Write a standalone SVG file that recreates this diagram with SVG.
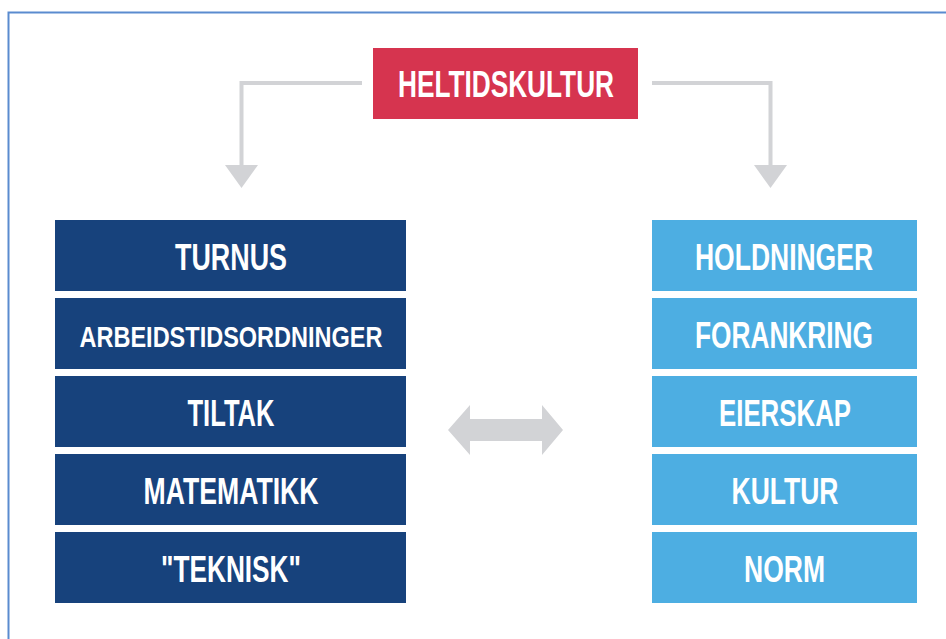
<svg xmlns="http://www.w3.org/2000/svg" width="946" height="639" viewBox="0 0 946 639">
<style>
.t{font-family:"Liberation Sans",Arial,sans-serif;font-weight:bold;fill:#fff;text-anchor:middle;font-size:36px}
.dk{fill:#17427c}
.lt{fill:#4daee2}
.con{fill:none;stroke:#d2d3d6;stroke-width:4}
.head{fill:#d2d3d6}
</style>
<rect width="946" height="639" fill="#fff"/>
<path d="M8.5,639 V12.5 H946" fill="none" stroke="#5a8bcf" stroke-width="2"/>
<g id="connectors">
<path class="con" d="M362,83 H241.5 V167"/>
<polygon class="head" points="225,165 258,165 241.5,188"/>
<path class="con" d="M652,83 H770.5 V167"/>
<polygon class="head" points="754,165 787,165 770.5,188"/>
<polygon class="head" points="448,430 470,405 470,419 542,419 542,405 563,430 542,455 542,441 470,441 470,455"/>
</g>
<g id="heltidskultur">
<rect x="373" y="48" width="265" height="71" fill="#d6344f"/>
<text class="t" x="506" y="97" textLength="216" lengthAdjust="spacingAndGlyphs">HELTIDSKULTUR</text>
</g>
<g id="turnus"><rect class="dk" x="55" y="220" width="351" height="71"/><text class="t" x="231" y="269.5" textLength="112" lengthAdjust="spacingAndGlyphs">TURNUS</text></g>
<g id="arbeidstidsordninger"><rect class="dk" x="55" y="298" width="351" height="71"/><text class="t" x="231" y="347" style="font-size:30px" textLength="303" lengthAdjust="spacingAndGlyphs">ARBEIDSTIDSORDNINGER</text></g>
<g id="tiltak"><rect class="dk" x="55" y="376" width="351" height="71"/><text class="t" x="231" y="425.5" textLength="87" lengthAdjust="spacingAndGlyphs">TILTAK</text></g>
<g id="matematikk"><rect class="dk" x="55" y="454" width="351" height="71"/><text class="t" x="231" y="503.5" textLength="175" lengthAdjust="spacingAndGlyphs">MATEMATIKK</text></g>
<g id="teknisk"><rect class="dk" x="55" y="532" width="351" height="71"/><text class="t" x="231" y="581.5" textLength="140" lengthAdjust="spacingAndGlyphs">"TEKNISK"</text></g>
<g id="holdninger"><rect class="lt" x="652" y="220" width="265" height="71"/><text class="t" x="784" y="269.5" textLength="178" lengthAdjust="spacingAndGlyphs">HOLDNINGER</text></g>
<g id="forankring"><rect class="lt" x="652" y="298" width="265" height="71"/><text class="t" x="784" y="347.5" textLength="178" lengthAdjust="spacingAndGlyphs">FORANKRING</text></g>
<g id="eierskap"><rect class="lt" x="652" y="376" width="265" height="71"/><text class="t" x="785" y="425.5" textLength="132" lengthAdjust="spacingAndGlyphs">EIERSKAP</text></g>
<g id="kultur"><rect class="lt" x="652" y="454" width="265" height="71"/><text class="t" x="785" y="503.5" textLength="107" lengthAdjust="spacingAndGlyphs">KULTUR</text></g>
<g id="norm"><rect class="lt" x="652" y="532" width="265" height="71"/><text class="t" x="784.5" y="581.5" textLength="81" lengthAdjust="spacingAndGlyphs">NORM</text></g>
</svg>
